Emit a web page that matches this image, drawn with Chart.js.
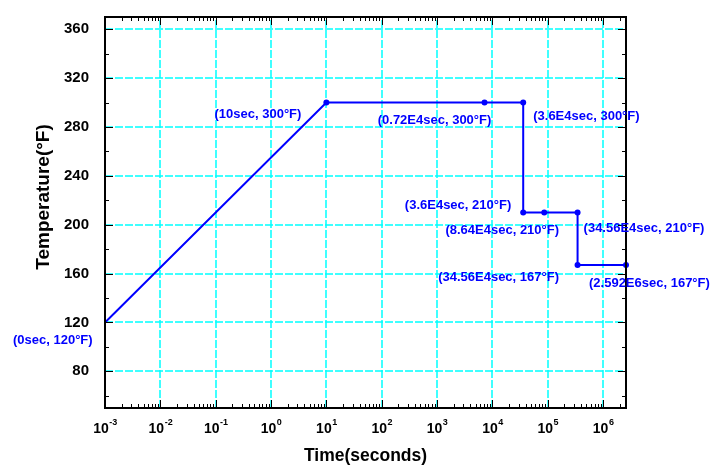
<!DOCTYPE html>
<html>
<head>
<meta charset="utf-8">
<script src="https://cdn.jsdelivr.net/npm/chart.js@4.4.0/dist/chart.umd.min.js"></script>
<style>
  html, body { margin: 0; padding: 0; background: #ffffff; }
  #wrap { width: 718px; height: 468px; }
</style>
</head>
<body>
<div id="wrap"><canvas id="tempChart"></canvas></div>
<script>
// Temperature profile: time (s) and temperature (°F) at each step
var times = [1e-3, 10, 7200, 36000, 36000, 86400, 345600, 345600, 2592000];
var temps = [120, 300, 300, 300, 210, 210, 210, 167, 167];
var pointLabels = [
    '(0sec, 120°F)', '(10sec, 300°F)', '(0.72E4sec, 300°F)', '(3.6E4sec, 300°F)',
    '(3.6E4sec, 210°F)', '(8.64E4sec, 210°F)', '(34.56E4sec, 210°F)',
    '(34.56E4sec, 167°F)', '(2.592E6sec, 167°F)'
];

// Axis ticks
var xDecades = [1e-3, 1e-2, 1e-1, 1e0, 1e1, 1e2, 1e3, 1e4, 1e5, 1e6];
var yTicks = [80, 120, 160, 200, 240, 280, 320, 360];
var yMinorTicks = [60, 100, 140, 180, 220, 260, 300, 340];
var xMin = 1e-3, xMax = 2592000, yMin = 50, yMax = 370;

// where each annotation sits relative to its point (pixels)
var labelPlace = [
    { align: 'left', dx: -92, dy: 18 },
    { align: 'right', dx: -25, dy: 12 },
    { align: 'center', dx: -50, dy: 18 },
    { align: 'left', dx: 10, dy: 14 },
    { align: 'right', dx: -12, dy: -7 },
    { align: 'center', dx: -42, dy: 18 },
    { align: 'left', dx: 6, dy: 16 },
    { align: 'center', dx: -79, dy: 12 },
    { align: 'left', dx: -37, dy: 18 }
];

var FONT = '"Liberation Sans", Arial, sans-serif';
var BLUE = '#0000ff';
var GRID = '#00ffff';

var frameAndLabels = {
    id: 'frameAndLabels',
    beforeDatasetsDraw: function(chart) {
        // dashed cyan grid at the major ticks
        var ctx = chart.ctx;
        var a = chart.chartArea;
        var xs = chart.scales.x, ys = chart.scales.y;
        ctx.save();
        ctx.strokeStyle = GRID;
        ctx.lineWidth = 1.5;
        ctx.setLineDash([8, 2]);
        ctx.beginPath();
        xDecades.forEach(function(d) {
            var px = Math.round(xs.getPixelForValue(d));
            ctx.moveTo(px, a.bottom); ctx.lineTo(px, a.top);
        });
        yTicks.forEach(function(v) {
            var py = Math.round(ys.getPixelForValue(v));
            ctx.moveTo(a.left, py); ctx.lineTo(a.right, py);
        });
        ctx.stroke();
        ctx.restore();
    },
    afterDraw: function(chart) {
        var ctx = chart.ctx;
        var a = chart.chartArea;
        var xs = chart.scales.x, ys = chart.scales.y;
        ctx.save();

        // frame
        ctx.strokeStyle = '#000';
        ctx.lineWidth = 2;
        ctx.strokeRect(a.left, a.top, a.right - a.left, a.bottom - a.top);

        // inward tick marks
        ctx.lineWidth = 1;
        ctx.beginPath();
        xDecades.forEach(function(d) {
            var px = Math.round(xs.getPixelForValue(d)) + 0.5;
            ctx.moveTo(px, a.bottom); ctx.lineTo(px, a.bottom - 8);
            ctx.moveTo(px, a.top); ctx.lineTo(px, a.top + 8);
            for (var m = 2; m <= 9; m++) {
                var v = d * m;
                if (v > xMax) break;
                var mx = Math.round(xs.getPixelForValue(v)) + 0.5;
                ctx.moveTo(mx, a.bottom); ctx.lineTo(mx, a.bottom - 4);
                ctx.moveTo(mx, a.top); ctx.lineTo(mx, a.top + 4);
            }
        });
        yTicks.forEach(function(v) {
            var py = Math.round(ys.getPixelForValue(v)) + 0.5;
            ctx.moveTo(a.left, py); ctx.lineTo(a.left + 8, py);
            ctx.moveTo(a.right, py); ctx.lineTo(a.right - 8, py);
        });
        yMinorTicks.forEach(function(v) {
            var py = Math.round(ys.getPixelForValue(v)) + 0.5;
            ctx.moveTo(a.left, py); ctx.lineTo(a.left + 4, py);
            ctx.moveTo(a.right, py); ctx.lineTo(a.right - 4, py);
        });
        ctx.stroke();

        // x tick labels as 10 with a raised exponent
        ctx.fillStyle = '#000';
        ctx.textBaseline = 'alphabetic';
        ctx.textAlign = 'left';
        xDecades.forEach(function(d) {
            var px = xs.getPixelForValue(d);
            var exp = String(Math.round(Math.log10(d)));
            ctx.font = 'bold 14px ' + FONT;
            var w10 = ctx.measureText('10').width;
            ctx.font = 'bold 9px ' + FONT;
            var wExp = ctx.measureText(exp).width;
            var start = px - (w10 + wExp) / 2;
            ctx.font = 'bold 14px ' + FONT;
            ctx.fillText('10', start, a.bottom + 25);
            ctx.font = 'bold 9px ' + FONT;
            ctx.fillText(exp, start + w10 + 0.5, a.bottom + 17);
        });

        // y axis title
        ctx.save();
        ctx.translate(44, 197);
        ctx.rotate(-Math.PI / 2);
        ctx.font = 'bold 19px ' + FONT;
        ctx.textAlign = 'center';
        ctx.textBaseline = 'middle';
        ctx.fillText('Temperature(°F)', 0, 0);
        ctx.restore();

        // point annotations
        ctx.fillStyle = BLUE;
        ctx.font = 'bold 13px ' + FONT;
        ctx.textBaseline = 'middle';
        pointLabels.forEach(function(txt, i) {
            var p = labelPlace[i];
            ctx.textAlign = p.align;
            ctx.fillText(txt, xs.getPixelForValue(times[i]) + p.dx, ys.getPixelForValue(temps[i]) + p.dy);
        });

        ctx.restore();
    }
};

var ctx = document.getElementById('tempChart').getContext('2d');
var tempChart = new Chart(ctx, {
    type: 'line',
    data: {
        datasets: [{
            data: times.map(function(t, i) { return { x: t, y: temps[i] }; }),
            borderColor: BLUE,
            backgroundColor: BLUE,
            borderWidth: 2,
            tension: 0,
            fill: false,
            clip: false,
            pointRadius: function(c) { return c.dataIndex === 0 ? 0 : 3; },
            pointBackgroundColor: BLUE,
            pointBorderWidth: 0
        }]
    },
    options: {
        responsive: true,
        maintainAspectRatio: false,
        animation: false,
        layout: { padding: { top: 11, right: 92, left: 0, bottom: 0 } },
        plugins: {
            legend: { display: false },
            tooltip: { enabled: false }
        },
        scales: {
            x: {
                type: 'logarithmic',
                min: xMin,
                max: xMax,
                afterBuildTicks: function(s) { s.ticks = xDecades.map(function(v) { return { value: v }; }); },
                afterFit: function(s) { s.height = 60; },
                ticks: { display: false },
                grid: { display: false },
                border: { display: false },
                title: {
                    display: true,
                    text: 'Time(seconds)',
                    color: '#000',
                    font: { family: FONT, size: 17.5, weight: 'bold' },
                    padding: { top: 0, bottom: 1 }
                }
            },
            y: {
                min: yMin,
                max: yMax,
                afterBuildTicks: function(s) { s.ticks = yTicks.map(function(v) { return { value: v }; }); },
                afterFit: function(s) { s.width = 105; },
                ticks: {
                    color: '#000',
                    padding: 8,
                    font: { family: FONT, size: 15, weight: 'bold' }
                },
                grid: { display: false },
                border: { display: false }
            }
        }
    },
    plugins: [frameAndLabels]
});
</script>
</body>
</html>
